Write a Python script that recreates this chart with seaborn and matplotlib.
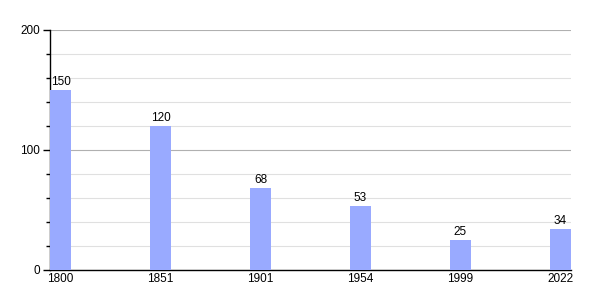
import matplotlib
matplotlib.use("Agg")
import matplotlib.pyplot as plt
import seaborn as sns
import pandas as pd
from matplotlib.ticker import MultipleLocator

years = ["1800", "1851", "1901", "1954", "1999", "2022"]
population = [150, 120, 68, 53, 25, 34]

df = pd.DataFrame({"year": years, "pop": population})

sns.set_style("white")
plt.rcParams['font.family'] = ['Liberation Sans', 'DejaVu Sans']
plt.rcParams['text.color'] = 'black'
plt.rcParams['xtick.color'] = 'black'
plt.rcParams['ytick.color'] = 'black'

fig = plt.figure(figsize=(6, 3), dpi=100)
ax = fig.add_axes([50/600, 0.1, 521/600, 0.8])

sns.barplot(data=df, x="year", y="pop", color="#99aaff", saturation=1,
            width=0.21, linewidth=0, ax=ax, zorder=3)

ax.set_xlim(-0.105, 5.105)
ax.set_ylim(0, 200)
ax.yaxis.set_major_locator(MultipleLocator(100))
ax.yaxis.set_minor_locator(MultipleLocator(20))
ax.grid(which="minor", axis="y", color="#e0e0e0", linewidth=0.8, zorder=0)
ax.grid(which="major", axis="y", color="#b0b0b0", linewidth=0.8, zorder=0)
ax.set_axisbelow(True)

for s in ["top", "right"]:
    ax.spines[s].set_visible(False)
for s in ["left", "bottom"]:
    ax.spines[s].set_color("black")
    ax.spines[s].set_linewidth(1)

ax.tick_params(axis="y", which="major", length=5, width=1, color="black",
               labelsize=8.5, pad=2, left=True, labelcolor="black")
ax.tick_params(axis="y", which="minor", length=3, width=1, color="black", left=True)
ax.tick_params(axis="x", length=0, labelsize=8.5, pad=2, labelcolor="black")
ax.set_xlabel("")
ax.set_ylabel("")

for i, v in enumerate(population):
    ax.text(i, v + 2, str(v), ha="center", va="bottom", fontsize=8.5, color="black")

fig.savefig("out.png", dpi=100)
